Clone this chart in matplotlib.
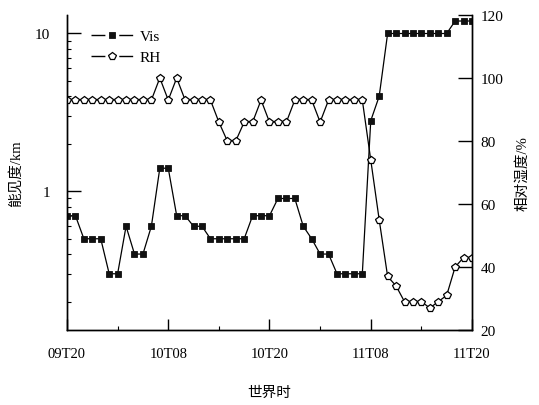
import numpy as np
import matplotlib
matplotlib.use("Agg")
import matplotlib.pyplot as plt
from matplotlib.lines import Line2D
from matplotlib.legend_handler import HandlerTuple
from matplotlib.ticker import LogLocator, NullFormatter, FixedLocator, MultipleLocator

plt.rcParams['font.family'] = ['Liberation Serif', 'Noto Sans CJK SC']

# hourly observations from 09T20 to 11T20 (UTC)
hours = np.arange(49)
vis_km = [0.7, 0.7, 0.5, 0.5, 0.5, 0.3, 0.3, 0.6, 0.4, 0.4,
          0.6, 1.4, 1.4, 0.7, 0.7, 0.6, 0.6, 0.5, 0.5, 0.5,
          0.5, 0.5, 0.7, 0.7, 0.7, 0.9, 0.9, 0.9, 0.6, 0.5,
          0.4, 0.4, 0.3, 0.3, 0.3, 0.3, 2.8, 4.0, 10, 10,
          10, 10, 10, 10, 10, 10, 12, 12, 12]
rh_pct = [93, 93, 93, 93, 93, 93, 93, 93, 93, 93,
          93, 100, 93, 100, 93, 93, 93, 93, 86, 80,
          80, 86, 86, 93, 86, 86, 86, 93, 93, 93,
          86, 93, 93, 93, 93, 93, 74, 55, 37, 34,
          29, 29, 29, 27, 29, 31, 40, 43, 43]
tick_hours = [0, 12, 24, 36, 48]
tick_labels = ['09T20', '10T08', '10T20', '11T08', '11T20']

fig = plt.figure(figsize=(5.39, 4.06), dpi=100)
ax = fig.add_axes([0.1243, 0.1847, 0.7514, 0.7759])
ax2 = ax.twinx()

sq = dict(marker='s', ms=4.4, mfc='#111111', mec='#111111', mew=0.6)
pent = dict(marker='p', ms=5.8, mfc='white', mec='black', mew=0.9)

ax.plot(hours, vis_km, color='black', lw=0.9, **sq)
ax2.plot(hours, rh_pct, color='black', lw=0.9, **pent)

ax.set_yscale('log')
ax.set_ylim(0.132, 13.1)
ax.set_xlim(0, 48)
ax2.set_ylim(20, 120)

ax.yaxis.set_major_locator(FixedLocator([1, 10]))
ax.set_yticklabels(['1', '10'])
ax.yaxis.set_minor_locator(LogLocator(base=10, subs=np.arange(2, 10)))
ax.yaxis.set_minor_formatter(NullFormatter())
ax.set_xticks(tick_hours)
ax.set_xticklabels(tick_labels)
ax.xaxis.set_minor_locator(MultipleLocator(6))
ax2.set_yticks([20, 40, 60, 80, 100, 120])

for a in (ax, ax2):
    a.spines['top'].set_visible(False)
    for s in a.spines.values():
        s.set_linewidth(1.0)

ax.tick_params(axis='y', which='major', direction='in', length=10, width=1,
               labelsize=11, pad=12, right=False)
ax.tick_params(axis='y', which='minor', direction='in', length=3, width=0.8, right=False)
ax.tick_params(axis='x', which='major', direction='in', length=8, width=1,
               labelsize=10.5, pad=12, top=False)
ax.tick_params(axis='x', which='minor', direction='in', length=3, width=0.8, top=False)
ax2.tick_params(axis='y', which='major', direction='in', length=10, width=1,
                labelsize=11, pad=6)

ax.set_ylabel('能见度/km', fontsize=10.5, labelpad=9)
ax2.set_ylabel('相对湿度/%', fontsize=10.5, labelpad=9)
ax.set_xlabel('世界时', fontsize=10.5, labelpad=19)

# legend keys: broken line with the marker in the gap
gap_line = dict(color='black', lw=1.0, linestyle=(0, (10, 10, 10)))
vis_key = (Line2D([], [], **gap_line), Line2D([], [], ls='none', **sq))
rh_key = (Line2D([], [], **gap_line), Line2D([], [], ls='none', **pent))
ax.legend(handles=[vis_key, rh_key], labels=['Vis', 'RH'],
          handler_map={tuple: HandlerTuple(ndivide=1)},
          loc='upper left', bbox_to_anchor=(0.025, 0.997),
          frameon=False, fontsize=11, handlelength=2.75, labelspacing=0.45,
          handletextpad=0.45)

fig.savefig('out.png', dpi=100)
